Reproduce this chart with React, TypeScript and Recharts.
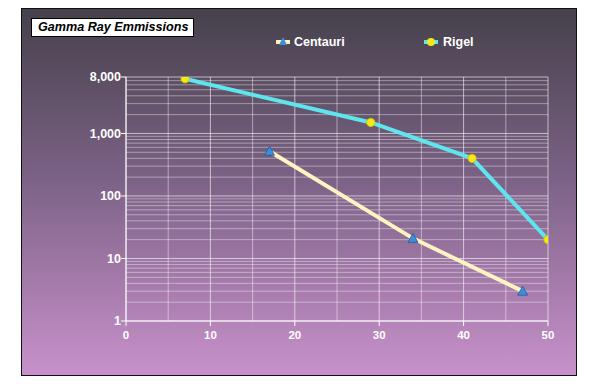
import React from "react";
import { LineChart, Line, XAxis, YAxis, CartesianGrid, Legend, ReferenceLine } from "recharts";

const TITLE = "Gamma Ray Emmissions";
const centauriX = [17, 34, 47];
const centauriY = [520, 21, 3];
const rigelX = [7, 29, 41, 50];
const rigelY = [7500, 1500, 400, 20];
const xTicks = [0, 10, 20, 30, 40, 50];
const xMinor = [5, 15, 25, 35, 45];
const yTicks = [1, 10, 100, 1000, 8000];
const yMinor = [2, 3, 4, 5, 6, 7, 8, 9, 20, 30, 40, 50, 60, 70, 80, 90, 200, 300, 400, 500, 600, 700, 800, 900, 2000, 3000, 4000, 5000, 6000, 7000];

const centauri = centauriX.map((x, i) => ({ x, y: centauriY[i] }));
const rigel = rigelX.map((x, i) => ({ x, y: rigelY[i] }));

const FONT = "'Liberation Sans', Arial, sans-serif";
const CENT_LINE = "#fff3c2";
const RIGEL_LINE = "#5de6ee";
const TRI = "#3b8fdb";
const DOT = "#f5e81a";

const Triangle = (props: any) => {
  const { cx, cy, key } = props;
  if (cx == null || cy == null) return null;
  return (
    <polygon
      key={key}
      points={`${cx},${cy - 5} ${cx - 5},${cy + 4} ${cx + 5},${cy + 4}`}
      fill={TRI}
      stroke="#1d5a9a"
      strokeWidth={0.8}
    />
  );
};

const Circle = (props: any) => {
  const { cx, cy, key } = props;
  if (cx == null || cy == null) return null;
  return <circle key={key} cx={cx} cy={cy} r={4.2} fill={DOT} stroke="#c9b800" strokeWidth={0.8} />;
};

const LegendContent = () => (
  <div style={{ position: "relative", width: 598, height: 20, fontFamily: FONT }}>
    <div style={{ position: "absolute", left: 276, top: 2, display: "flex", alignItems: "center" }}>
      <svg width={14} height={12}>
        <rect x={0} y={4} width={14} height={4} fill={CENT_LINE} />
        <polygon points="7,1 3,9 11,9" fill={TRI} />
      </svg>
      <span style={{ color: "#fff", fontWeight: "bold", fontSize: 12.5, marginLeft: 4 }}>Centauri</span>
    </div>
    <div style={{ position: "absolute", left: 424, top: 2, display: "flex", alignItems: "center" }}>
      <svg width={14} height={12}>
        <rect x={0} y={4} width={14} height={4} fill={RIGEL_LINE} />
        <circle cx={7} cy={6} r={4} fill={DOT} />
      </svg>
      <span style={{ color: "#fff", fontWeight: "bold", fontSize: 12.5, marginLeft: 5 }}>Rigel</span>
    </div>
  </div>
);

export default function App() {
  return (
    <div style={{ position: "absolute", left: 0, top: 0, width: 598, height: 384, background: "#fff" }}>
      <div
        style={{
          position: "absolute",
          left: 21,
          top: 8,
          width: 554,
          height: 366,
          border: "1px solid #111",
          background: "linear-gradient(to bottom, #46414b 0%, #7a6184 45%, #c891cb 100%)",
        }}
      />
      <div
        style={{
          position: "absolute",
          left: 31,
          top: 18,
          width: 155,
          height: 17,
          background: "#fff",
          border: "1px solid #000",
          fontFamily: FONT,
          fontWeight: "bold",
          fontStyle: "italic",
          fontSize: 12.6,
          lineHeight: "17px",
          paddingLeft: 6,
          boxSizing: "content-box",
          color: "#000",
          whiteSpace: "nowrap",
          overflow: "hidden",
        }}
      >
        {TITLE}
      </div>
      <div style={{ position: "absolute", left: 0, top: 0 }}>
        <LineChart width={598} height={384} margin={{ top: 77, right: 50, left: 66, bottom: 33 }}>
          <CartesianGrid
            stroke="rgba(255,255,255,0.6)"
            strokeWidth={1}
            horizontalValues={yTicks}
            verticalValues={xTicks}
          />
          <XAxis
            type="number"
            dataKey="x"
            domain={[0, 50]}
            ticks={xTicks}
            allowDataOverflow
            height={30}
            stroke="#fff"
            tickSize={5}
            tickMargin={5}
            tick={{ fill: "#fff", fontSize: 11.5, fontWeight: "bold", fontFamily: FONT }}
          />
          <YAxis
            type="number"
            dataKey="y"
            scale="log"
            domain={[1, 8000]}
            ticks={yTicks}
            allowDataOverflow
            width={60}
            stroke="#fff"
            tickSize={5}
            tickMargin={0}
            tickFormatter={(v: number) => v.toLocaleString("en-US")}
            tick={{ fill: "#fff", fontSize: 12.5, fontWeight: "bold", fontFamily: FONT }}
          />
          {yMinor.map((v) => (
            <ReferenceLine key={"y" + v} y={v} stroke="rgba(255,255,255,0.4)" strokeWidth={1} />
          ))}
          {xMinor.map((v) => (
            <ReferenceLine key={"x" + v} x={v} stroke="rgba(255,255,255,0.45)" strokeWidth={1} />
          ))}
          <Legend
            verticalAlign="middle"
            layout="horizontal"
            align="center"
            wrapperStyle={{ position: "absolute", left: 0, top: 33, width: 598 }}
            content={<LegendContent />}
          />
          <Line
            name="Centauri"
            data={centauri}
            dataKey="y"
            stroke={CENT_LINE}
            strokeWidth={4}
            dot={Triangle}
            activeDot={false}
            isAnimationActive={false}
          />
          <Line
            name="Rigel"
            data={rigel}
            dataKey="y"
            stroke={RIGEL_LINE}
            strokeWidth={4}
            dot={Circle}
            activeDot={false}
            isAnimationActive={false}
          />
        </LineChart>
      </div>
    </div>
  );
}
